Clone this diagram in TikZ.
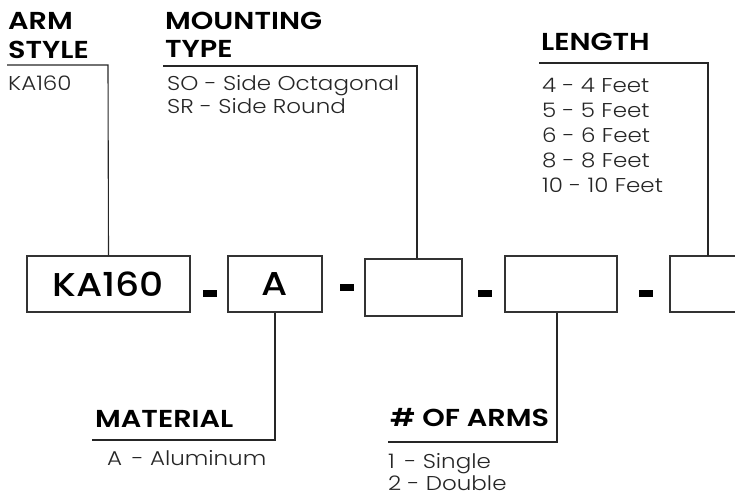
\documentclass[tikz,border=0pt]{standalone}
\usepackage{fontspec}
\setmainfont{Poppins}[FakeStretch=1.14]
\newfontfamily\medfont{Poppins Medium}[FakeStretch=1.14]
\newfontfamily\hdrfont{Poppins SemiBold}[FakeStretch=1.17]
\newfontfamily\lightfont{Poppins Light}[FakeStretch=1.15]
\begin{document}
\begin{tikzpicture}[x=1pt,y=-1pt,
  hdr/.style={anchor=base west,inner sep=0pt,font=\fontsize{24.5}{25}\hdrfont,text=black},
  body/.style={anchor=base west,inner sep=0pt,font=\fontsize{20}{20}\lightfont,text=black!85},
  codebox/.style={draw=black!80,line width=1.1pt,inner sep=0pt},
  lead/.style={draw=black!85,line width=1.1pt},
  sep/.style={fill=black,draw=none,inner sep=0pt,minimum width=14pt,minimum height=7pt}]
\useasboundingbox (0,0) rectangle (735,496);
% boxes
\node[codebox,minimum width=163pt,minimum height=56pt] (b1) at (108.5,284) {};
\node[codebox,minimum width=94pt,minimum height=56pt] (b2) at (275,284) {};
\node[codebox,minimum width=97pt,minimum height=57pt] (b3) at (413.5,287.5) {};
\node[codebox,minimum width=112pt,minimum height=56pt] (b4) at (561,284) {};
\draw[draw=black!80,line width=1.1pt] (740,256) -- (670,256) -- (670,312) -- (740,312);
\coordinate (b5n) at (708,256);
\node[anchor=base,inner sep=0pt,font=\fontsize{33}{33}\medfont] (t1) at (108,296) {KA160};
\node[anchor=base,inner sep=0pt,font=\fontsize{33}{33}\medfont] (t2) at (275,295) {A};
% separators
\node[sep] (s1) at (210,293.5) {};
\node[sep] (s2) at (347,287) {};
\node[sep] (s3) at (485,293.5) {};
\node[sep] (s4) at (646,293.5) {};
% ARM STYLE
\node[hdr] (h1a) at (8,29) {ARM};
\node[hdr] (h1b) at (8,58) {STYLE};
\node[body] (v1) at (8,90) {KA160};
\coordinate (u1) at (7,65);
\draw[lead] (u1) -- (108,65) -- (b1.north);
% MOUNTING TYPE
\node[hdr] (h2a) at (165,29) {MOUNTING};
\node[hdr] (h2b) at (165,57) {TYPE};
\node[body] (v2a) at (167,90) {SO - Side Octagonal};
\node[body] (v2b) at (167,113) {SR - Side Round};
\coordinate (u2) at (163,66);
\draw[lead] (u2) -- (417,66) -- (b3.north -| 417,0);
% LENGTH
\node[hdr] (h3) at (541,50) {LENGTH};
\node[body] (v3a) at (542,92) {4 - 4 Feet};
\node[body] (v3b) at (542,117) {5 - 5 Feet};
\node[body] (v3c) at (542,142) {6 - 6 Feet};
\node[body] (v3d) at (542,167) {8 - 8 Feet};
\node[body] (v3e) at (542,192) {10 - 10 Feet};
\coordinate (u3) at (539,63);
\draw[lead] (u3) -- (708,63) -- (b5n);
% MATERIAL
\node[hdr] (h4) at (95,427) {MATERIAL};
\node[body] (v4) at (107,465) {A\, - Aluminum};
\coordinate (u4) at (92,440);
\draw[lead] (b2.south) -- (275,440) -- (u4);
% # OF ARMS
\node[hdr] (h5) at (390,426) {\# OF ARMS};
\node[body] (v5a) at (388,468) {1\, - Single};
\node[body] (v5b) at (388,490) {2 - Double};
\coordinate (u5) at (388,442);
\draw[lead] (b4.south -| 557,0) -- (557,442) -- (u5);
\end{tikzpicture}
\end{document}
